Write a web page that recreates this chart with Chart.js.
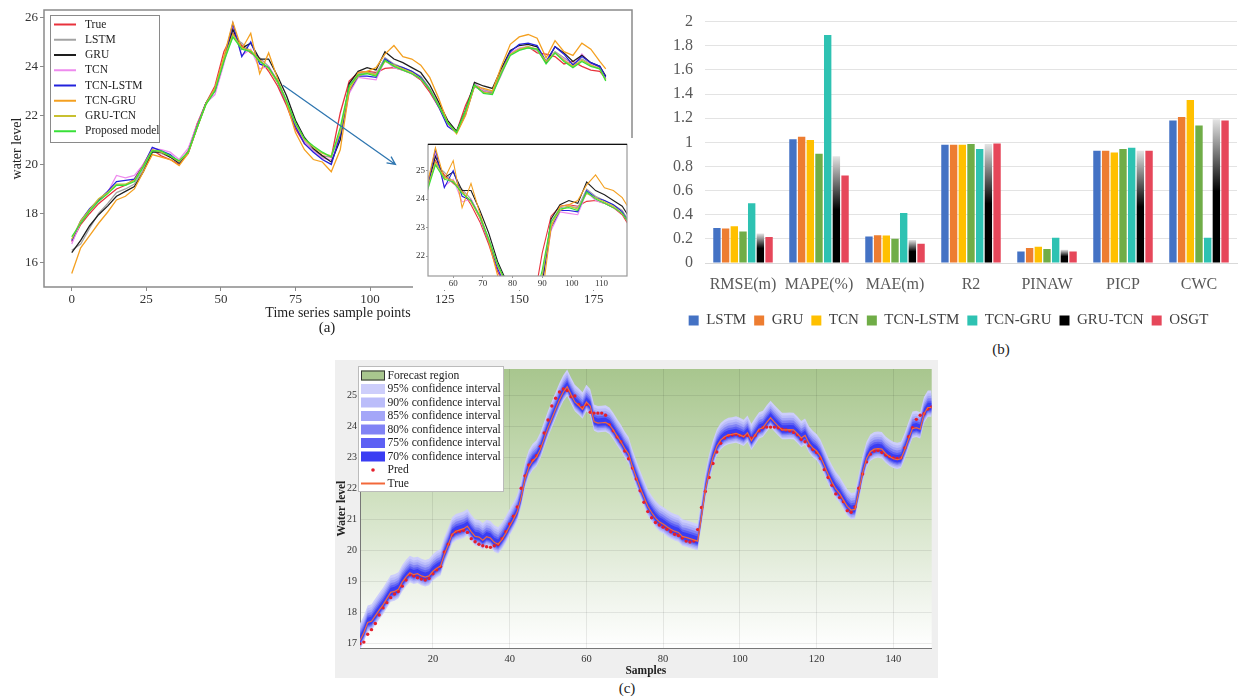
<!DOCTYPE html>
<html>
<head>
<meta charset="utf-8">
<script src="https://cdn.jsdelivr.net/npm/chart.js@4.4.1/dist/chart.umd.min.js"></script>
<style>
  body { margin: 0; background: #fff; width: 1239px; height: 699px; position: relative; overflow: hidden; font-family: "Liberation Serif", serif; }
  .box { position: absolute; }
  .cap { position: absolute; font-size: 15px; color: #222; transform: translateX(-50%); }
</style>
</head>
<body>
<div class="box" style="left:0;top:0;width:640px;height:322px"><canvas id="chartA"></canvas></div>
<div class="box" style="left:413px;top:138px;width:222px;height:152px"><canvas id="chartInset"></canvas></div>
<div class="box" style="left:660px;top:0;width:579px;height:340px"><canvas id="chartB"></canvas></div>
<div class="box" style="left:335px;top:360px;width:603px;height:318px"><canvas id="chartC"></canvas></div>
<div class="cap" style="left:327px;top:319px">(a)</div>
<div class="cap" style="left:1001px;top:341px">(b)</div>
<div class="cap" style="left:627px;top:680px">(c)</div>

<script>
// ---------- (a) model predictions ----------
const aSamples = [0, 3, 6, 9, 12, 15, 18, 21, 24, 27, 30, 33, 36, 39, 42, 45, 48, 51, 54, 57,
  60, 63, 66, 69, 72, 75, 78, 81, 84, 87, 90, 93, 96, 99, 102, 105, 108, 111, 114, 117,
  120, 123, 126, 129, 132, 135, 138, 141, 144, 147, 150, 153, 156, 159, 162, 165, 168, 171, 174, 177, 179];
const aTrue = [16.85, 17.55, 18.0, 18.4, 18.7, 19.0, 19.15, 19.4, 20.0, 20.6,
  20.35, 20.2, 20.0, 20.55, 21.65, 22.5, 23.2, 24.6, 25.35, 24.85,
  24.55, 24.3, 23.8, 23.2, 22.4, 21.45, 20.85, 20.6, 20.35, 20.3,
  22.1, 23.4, 23.75, 23.8, 23.75, 23.92, 23.95, 23.85, 23.7, 23.45,
  22.95, 22.35, 21.7, 21.35, 22.4, 23.2, 23.0, 22.95, 23.9, 24.55,
  24.7, 24.8, 24.55, 24.5, 24.4, 24.1, 24.2, 24.0, 23.85, 23.8, 23.5];
const aLstm = [16.5, 16.75, 17.4, 18.0, 18.4, 18.85, 19.0, 19.2, 19.8, 20.55,
  20.45, 20.3, 20.05, 20.5, 21.55, 22.5, 23.1, 24.35, 25.2, 24.95,
  24.6, 24.35, 24.0, 23.4, 22.6, 21.6, 20.95, 20.6, 20.3, 20.35,
  21.2, 23.2, 23.7, 23.75, 23.7, 24.35, 24.1, 23.95, 23.8, 23.6,
  23.1, 22.45, 21.75, 21.35, 22.2, 23.3, 23.05, 22.95, 23.8, 24.5,
  24.7, 24.75, 24.65, 24.2, 24.6, 24.35, 24.1, 24.3, 24.1, 23.95, 23.5];
const aGru = [16.4, 16.9, 17.5, 17.95, 18.3, 18.7, 18.9, 19.1, 19.7, 20.5,
  20.5, 20.3, 20.05, 20.45, 21.5, 22.5, 23.05, 24.3, 25.5, 24.75,
  24.95, 24.3, 24.3, 23.6, 22.8, 21.8, 21.1, 20.65, 20.35, 20.1,
  21.0, 23.3, 23.8, 23.95, 23.85, 24.6, 24.3, 24.15, 23.95, 23.75,
  23.25, 22.55, 21.8, 21.35, 22.2, 23.35, 23.2, 23.1, 23.9, 24.65,
  24.85, 24.9, 24.8, 24.15, 24.8, 24.55, 24.2, 24.45, 24.15, 24.0, 23.6];
const aTcn = [16.75, 17.65, 18.1, 18.5, 18.85, 19.55, 19.45, 19.55, 20.0, 20.65,
  20.6, 20.5, 20.2, 20.65, 21.6, 22.5, 22.85, 24.1, 25.6, 24.45,
  24.7, 23.9, 24.0, 23.4, 22.55, 21.6, 20.9, 20.55, 20.25, 20.2,
  21.0, 22.9, 23.55, 23.5, 23.45, 24.25, 23.95, 23.85, 23.7, 23.5,
  23.05, 22.35, 21.6, 21.3, 22.1, 23.3, 23.0, 22.9, 23.65, 24.55,
  24.75, 24.8, 24.7, 24.15, 24.55, 24.3, 24.0, 24.5, 24.1, 23.9, 23.5];
const aTcnLstm = [16.9, 17.7, 18.2, 18.55, 18.9, 19.3, 19.35, 19.4, 19.95, 20.7,
  20.55, 20.4, 20.1, 20.5, 21.55, 22.5, 23.0, 24.25, 25.75, 24.4,
  25.0, 24.1, 23.95, 23.35, 22.5, 21.55, 20.85, 20.5, 20.2, 20.0,
  21.2, 23.0, 23.6, 23.6, 23.55, 24.3, 24.05, 23.95, 23.8, 23.55,
  23.05, 22.35, 21.55, 21.3, 22.05, 23.2, 22.95, 22.9, 23.8, 24.6,
  24.9, 24.95, 24.85, 24.2, 24.8, 24.5, 24.05, 24.4, 24.15, 24.0, 23.55];
const aTcnGru = [15.55, 16.6, 17.1, 17.6, 18.05, 18.55, 18.7, 19.0, 19.7, 20.4,
  20.3, 20.2, 19.95, 20.45, 21.5, 22.45, 23.1, 24.4, 25.8, 24.7,
  25.35, 23.7, 24.55, 23.5, 22.5, 21.3, 20.6, 20.2, 20.1, 19.7,
  20.6, 23.0, 23.75, 23.8, 23.95, 24.5, 24.85, 24.4, 24.3, 24.05,
  23.55, 22.7, 21.7, 21.25, 22.0, 23.2, 23.1, 23.0, 24.0, 24.9,
  25.2, 25.3, 25.15, 24.35, 25.05, 24.6, 24.45, 24.95, 24.7, 24.2, 23.9];
const aGruTcn = [16.95, 17.7, 18.15, 18.6, 18.85, 19.2, 19.2, 19.35, 19.95, 20.6,
  20.5, 20.35, 20.1, 20.5, 21.5, 22.5, 23.05, 24.3, 25.3, 24.75,
  24.65, 24.25, 23.9, 23.35, 22.55, 21.65, 21.0, 20.7, 20.45, 20.35,
  21.3, 23.1, 23.6, 23.75, 23.65, 24.2, 24.05, 23.9, 23.75, 23.5,
  23.05, 22.4, 21.7, 21.3, 22.15, 23.2, 22.95, 22.9, 23.8, 24.5,
  24.7, 24.8, 24.7, 24.2, 24.55, 24.25, 24.0, 24.25, 24.05, 23.9, 23.45];
const aProposed = [17.05, 17.6, 18.1, 18.5, 18.8, 19.15, 19.15, 19.3, 19.9, 20.55,
  20.55, 20.35, 20.15, 20.5, 21.5, 22.45, 23.0, 24.2, 25.2, 24.7,
  24.6, 24.2, 23.95, 23.4, 22.6, 21.7, 21.05, 20.75, 20.5, 20.3,
  21.5, 23.2, 23.65, 23.7, 23.6, 24.25, 24.0, 23.85, 23.7, 23.5,
  23.05, 22.4, 21.7, 21.3, 22.2, 23.25, 22.9, 22.85, 23.7, 24.45,
  24.65, 24.75, 24.7, 24.1, 24.55, 24.2, 23.95, 24.2, 24.0, 23.9, 23.4];
const aNames = ["True", "LSTM", "GRU", "TCN", "TCN-LSTM", "TCN-GRU", "GRU-TCN", "Proposed model"];
const aXTicks = [0, 25, 50, 75, 100, 125, 150, 175];
const aYTicks = [16, 18, 20, 22, 24, 26];
const insetXTicks = [60, 70, 80, 90, 100, 110];
const insetYTicks = [22, 23, 24, 25];

// ---------- (b) evaluation metrics ----------
const bMetrics = ["RMSE(m)", "MAPE(%)", "MAE(m)", "R2", "PINAW", "PICP", "CWC"];
const bModels = ["LSTM", "GRU", "TCN", "TCN-LSTM", "TCN-GRU", "GRU-TCN", "OSGT"];
const bLstm = [0.29, 1.025, 0.22, 0.98, 0.095, 0.93, 1.18];
const bGru = [0.285, 1.045, 0.23, 0.98, 0.125, 0.93, 1.21];
const bTcn = [0.305, 1.02, 0.228, 0.98, 0.135, 0.915, 1.35];
const bTcnLstm = [0.26, 0.905, 0.2, 0.985, 0.115, 0.945, 1.14];
const bTcnGru = [0.495, 1.89, 0.415, 0.945, 0.21, 0.955, 0.21];
const bGruTcn = [0.245, 0.885, 0.19, 0.985, 0.11, 0.93, 1.19];
const bOsgt = [0.215, 0.725, 0.16, 0.99, 0.095, 0.93, 1.18];
const bYTicks = [0, 0.2, 0.4, 0.6, 0.8, 1, 1.2, 1.4, 1.6, 1.8, 2];

// ---------- (c) probabilistic forecast ----------
const cTrue = [17.10, 17.35, 17.68, 17.72, 17.90, 18.08, 18.25, 18.45, 18.65, 18.68,
  18.75, 18.98, 19.15, 19.28, 19.22, 19.25, 19.18, 19.14, 19.18, 19.33,
  19.43, 19.50, 19.88, 20.18, 20.52, 20.62, 20.66, 20.70, 20.78, 20.60,
  20.45, 20.43, 20.33, 20.44, 20.40, 20.26, 20.20, 20.35, 20.55, 20.78,
  21.00, 21.25, 21.70, 22.30, 22.68, 22.88, 23.00, 23.25, 23.60, 23.95,
  24.25, 24.55, 24.85, 25.10, 25.27, 25.02, 24.78, 24.67, 24.54, 24.78,
  24.65, 24.15, 24.10, 24.11, 24.12, 24.05, 23.88, 23.68, 23.50, 23.28,
  23.10, 22.70, 22.35, 22.02, 21.72, 21.42, 21.22, 21.05, 20.92, 20.85,
  20.76, 20.68, 20.62, 20.58, 20.45, 20.42, 20.38, 20.34, 20.30, 21.10,
  21.95, 22.55, 23.00, 23.35, 23.55, 23.66, 23.72, 23.74, 23.77, 23.72,
  23.66, 23.79, 23.53, 23.72, 23.90, 23.95, 24.12, 24.27, 24.13, 24.00,
  23.88, 23.88, 23.89, 23.88, 23.76, 23.62, 23.70, 23.45, 23.30, 23.20,
  23.02, 22.74, 22.45, 22.20, 21.98, 21.83, 21.62, 21.42, 21.30, 21.32,
  21.90, 22.50, 22.95, 23.18, 23.26, 23.28, 23.26, 23.12, 23.02, 22.95,
  22.92, 22.95, 23.25, 23.60, 23.92, 23.95, 23.90, 24.40, 24.60, 24.60];
const cPred = [17.00, 17.05, 17.30, 17.45, 17.65, 17.92, 18.15, 18.32, 18.48, 18.60,
  18.68, 18.85, 19.05, 19.22, 19.18, 19.12, 19.08, 19.05, 19.10, 19.25,
  19.38, 19.48, 19.95, 20.20, 20.50, 20.60, 20.62, 20.65, 20.58, 20.38,
  20.28, 20.20, 20.15, 20.12, 20.10, 20.15, 20.20, 20.38, 20.60, 20.85,
  21.10, 21.40, 22.00, 22.40, 22.75, 22.90, 23.05, 23.35, 23.78, 24.20,
  24.65, 24.90, 25.10, 25.20, 25.15, 24.95, 24.97, 24.70, 24.60, 24.70,
  24.45, 24.42, 24.42, 24.42, 24.35, 24.05, 23.85, 23.65, 23.50, 23.20,
  22.95, 22.65, 22.30, 21.92, 21.55, 21.25, 21.05, 20.90, 20.82, 20.75,
  20.68, 20.60, 20.52, 20.48, 20.40, 20.30, 20.27, 20.30, 20.67, 21.38,
  21.90, 22.35, 22.80, 23.17, 23.45, 23.62, 23.70, 23.72, 23.74, 23.70,
  23.68, 23.70, 23.62, 23.70, 23.85, 23.95, 23.97, 23.97, 23.97, 23.95,
  23.90, 23.88, 23.85, 23.80, 23.72, 23.58, 23.50, 23.37, 23.25, 23.15,
  22.96, 22.60, 22.35, 22.10, 21.82, 21.70, 21.57, 21.28, 21.23, 21.40,
  22.00, 22.46, 22.85, 23.10, 23.20, 23.22, 23.15, 23.07, 23.02, 22.98,
  22.96, 22.98, 23.30, 23.66, 23.95, 24.22, 24.35, 24.40, 24.55, 24.62];
const cSamples = cTrue.map((v, i) => i + 1);
const ciLevels = ["95%", "90%", "85%", "80%", "75%", "70%"];
const ciUpper = [0.55, 0.46, 0.38, 0.30, 0.22, 0.15]; // band above the true line
const ciLower = [0.30, 0.26, 0.22, 0.17, 0.13, 0.09]; // band below the true line
const cXTicks = [20, 40, 60, 80, 100, 120, 140];
const cYTicks = [17, 18, 19, 20, 21, 22, 23, 24, 25];

// ---------- styles ----------
Chart.defaults.font.family = "'Liberation Serif', 'Times New Roman', serif";
Chart.defaults.color = "#222";
const aColors = ["#e8323c", "#a3a3a3", "#1e1e1e", "#ee8aee", "#2222dc", "#f4a020", "#c8c030", "#38e038"];
const aDrawOrder = [7, 6, 4, 5, 3, 2, 1, 0]; // green on top
const bColors = ["#4472c4", "#ed7d31", "#ffc000", "#70ad47", "#2ec2b2", "#000000", "#e6475a"];
const ciColors = ["#cdcefb", "#bbbdfa", "#a4a6f8", "#8183f5", "#5d60f4", "#3a3df3"];

const fixTicks = (list) => (scale) => { scale.ticks = list.map((v) => ({ value: v })); };

// plugins
const whiteBg = {
  id: "whiteBg",
  beforeDraw(chart) {
    const c = chart.ctx;
    c.save();
    c.fillStyle = "#fff";
    c.fillRect(0, 0, chart.width, chart.height);
    c.restore();
  },
};

const frame = {
  id: "frame",
  afterDatasetsDraw(chart, args, o) {
    const a = chart.chartArea, c = chart.ctx;
    c.save();
    c.strokeStyle = o.color || "#888";
    c.lineWidth = o.width || 1.5;
    c.strokeRect(a.left, a.top, a.right - a.left, a.bottom - a.top);
    if (o.topColor) {
      c.strokeStyle = o.topColor;
      c.beginPath(); c.moveTo(a.left, a.top); c.lineTo(a.right, a.top); c.stroke();
    }
    c.restore();
  },
};

const arrow = {
  id: "arrow",
  afterDatasetsDraw(chart, args, o) {
    if (!o.from) return;
    const x = chart.scales.x, y = chart.scales.y, c = chart.ctx;
    const x0 = x.getPixelForValue(o.from[0]), y0 = y.getPixelForValue(o.from[1]);
    const x1 = x.getPixelForValue(o.to[0]), y1 = y.getPixelForValue(o.to[1]);
    const ang = Math.atan2(y1 - y0, x1 - x0);
    c.save();
    c.strokeStyle = "#2f76b0";
    c.lineWidth = 1.3;
    c.beginPath(); c.moveTo(x0, y0); c.lineTo(x1, y1);
    c.moveTo(x1 - 9 * Math.cos(ang - 0.45), y1 - 9 * Math.sin(ang - 0.45));
    c.lineTo(x1, y1);
    c.lineTo(x1 - 9 * Math.cos(ang + 0.45), y1 - 9 * Math.sin(ang + 0.45));
    c.stroke();
    c.restore();
  },
};

// legend drawn inside the plot, like the original figures
const boxLegend = {
  id: "boxLegend",
  afterDraw(chart, args, o) {
    if (!o.items) return;
    const c = chart.ctx;
    c.save();
    c.fillStyle = "#fff";
    c.fillRect(o.x, o.y, o.w, o.h);
    c.strokeStyle = o.border;
    c.lineWidth = 1;
    c.strokeRect(o.x + 0.5, o.y + 0.5, o.w, o.h);
    c.font = o.font;
    c.textBaseline = "middle";
    o.items.forEach((it, i) => {
      const cy = o.y + o.first + i * o.row;
      if (it.kind === "line") {
        c.strokeStyle = it.color; c.lineWidth = o.lineWidth;
        c.beginPath(); c.moveTo(o.mark[0], cy); c.lineTo(o.mark[1], cy); c.stroke();
      } else if (it.kind === "rect") {
        c.fillStyle = it.color;
        c.fillRect(o.mark[0], cy - 5, o.mark[1] - o.mark[0], 10);
        if (it.stroke) { c.strokeStyle = it.stroke; c.lineWidth = 1; c.strokeRect(o.mark[0] + 0.5, cy - 4.5, o.mark[1] - o.mark[0] - 1, 9); }
      } else {
        c.fillStyle = it.color;
        c.beginPath(); c.arc((o.mark[0] + o.mark[1]) / 2, cy, 1.8, 0, Math.PI * 2); c.fill();
      }
      c.fillStyle = "#222";
      c.fillText(it.text, o.textX, cy);
    });
    c.restore();
  },
};

// ---------- (a) ----------
function aDatasets(width) {
  const values = [aTrue, aLstm, aGru, aTcn, aTcnLstm, aTcnGru, aGruTcn, aProposed];
  return aNames.map((name, k) => ({
    label: name,
    data: aSamples.map((s, i) => ({ x: s, y: values[k][i] })),
    borderColor: aColors[k],
    borderWidth: width,
    pointRadius: 0,
    order: aDrawOrder[k],
  }));
}

new Chart(document.getElementById("chartA"), {
  type: "line",
  data: { datasets: aDatasets(1.3) },
  options: {
    responsive: true,
    maintainAspectRatio: false,
    animation: false,
    layout: { padding: { top: 10, right: 8, left: 0, bottom: 0 } },
    plugins: {
      legend: { display: false },
      tooltip: { enabled: false },
      frame: { color: "#8a8a8a", width: 1.5 },
      arrow: { from: [70.8, 23.23], to: [108.5, 20.0] },
      boxLegend: {
        x: 50, y: 15, w: 109, h: 127, first: 9.5, row: 15.25, border: "#8a8a8a",
        mark: [54, 76], textX: 85, lineWidth: 2, font: "11.5px 'Liberation Serif'",
        items: aNames.map((n, k) => ({ text: n, kind: "line", color: aColors[k] })),
      },
    },
    scales: {
      x: {
        type: "linear", min: -9.3, max: 187.8,
        afterBuildTicks: fixTicks(aXTicks),
        afterFit: (s) => { s.height = 35; },
        grid: { drawOnChartArea: false, tickLength: 4, color: "#8a8a8a" },
        border: { display: false },
        ticks: { padding: 1, font: { size: 13 }, color: "#333" },
        title: { display: true, text: "Time series sample points", font: { size: 14 }, color: "#222", padding: 0 },
      },
      y: {
        min: 15.0, max: 26.3,
        afterBuildTicks: fixTicks(aYTicks),
        afterFit: (s) => { s.width = 44; },
        grid: { drawOnChartArea: false, tickLength: 4, color: "#8a8a8a" },
        border: { display: false },
        ticks: { padding: 2, font: { size: 13 }, color: "#333" },
        title: { display: true, text: "water level", font: { size: 14 }, color: "#222", padding: { top: 9, bottom: 0 } },
      },
    },
  },
  plugins: [frame, arrow, boxLegend],
});

// zoomed inset of samples 52-119
new Chart(document.getElementById("chartInset"), {
  type: "line",
  data: { datasets: aDatasets(1.1) },
  options: {
    responsive: true,
    maintainAspectRatio: false,
    animation: false,
    layout: { padding: { top: 4, right: 8, left: 0, bottom: 0 } },
    plugins: {
      legend: { display: false },
      tooltip: { enabled: false },
      frame: { color: "#9a9a9a", width: 1.2, topColor: "#111" },
    },
    scales: {
      x: {
        type: "linear", min: 51.5, max: 118.6,
        afterBuildTicks: fixTicks(insetXTicks),
        afterFit: (s) => { s.height = 14; },
        grid: { drawOnChartArea: false, tickLength: 2, color: "#9a9a9a" },
        border: { display: false },
        ticks: { padding: 0, font: { size: 9 }, color: "#333" },
      },
      y: {
        min: 21.3, max: 25.92,
        afterBuildTicks: fixTicks(insetYTicks),
        afterFit: (s) => { s.width = 15; },
        grid: { drawOnChartArea: false, tickLength: 2, color: "#9a9a9a" },
        border: { display: false },
        ticks: { padding: 1, font: { size: 9 }, color: "#333" },
      },
    },
  },
  plugins: [whiteBg, frame],
});

// ---------- (b) ----------
const bValues = [bLstm, bGru, bTcn, bTcnLstm, bTcnGru, bGruTcn, bOsgt];
new Chart(document.getElementById("chartB"), {
  type: "bar",
  data: {
    labels: bMetrics,
    datasets: bModels.map((name, k) => ({
      label: name,
      data: bValues[k],
      backgroundColor: name === "GRU-TCN"
        ? (ctx) => {
            const chart = ctx.chart;
            if (ctx.type !== "data" || !chart.chartArea) return "#000";
            const y = chart.scales.y;
            const top = y.getPixelForValue(ctx.raw), base = y.getPixelForValue(0);
            const g = chart.ctx.createLinearGradient(0, top, 0, base);
            g.addColorStop(0, "#e4e4e4");
            g.addColorStop(0.5, "#000");
            g.addColorStop(1, "#000");
            return g;
          }
        : bColors[k],
      borderWidth: 0,
      categoryPercentage: 0.8,
      barPercentage: 0.85,
    })),
  },
  options: {
    responsive: true,
    maintainAspectRatio: false,
    animation: false,
    layout: { padding: { top: 20, right: 2, left: 0, bottom: 2 } },
    plugins: {
      tooltip: { enabled: false },
      legend: {
        position: "bottom",
        labels: { boxWidth: 10, boxHeight: 10, padding: 8, color: "#404040", font: { size: 15 } },
      },
    },
    scales: {
      x: {
        afterFit: (s) => { s.height = 42; },
        grid: { display: false },
        border: { color: "#d9d9d9" },
        ticks: { padding: 4, color: "#595959", font: { size: 16 }, minRotation: 0, maxRotation: 0, autoSkip: false },
      },
      y: {
        min: 0, max: 2,
        afterBuildTicks: fixTicks(bYTicks),
        afterFit: (s) => { s.width = 45; },
        grid: { color: "#e3e3e3", drawTicks: false },
        border: { display: false },
        ticks: { padding: 12, color: "#595959", font: { size: 16 }, callback: (v) => String(+v.toFixed(1)) },
      },
    },
  },
});

// ---------- (c) ----------
const cDatasets = [
  {
    label: "True",
    data: cSamples.map((s, i) => ({ x: s, y: cTrue[i] })),
    borderColor: "#f2683a", borderWidth: 1.2, pointRadius: 0,
  },
  {
    label: "Pred",
    data: cSamples.map((s, i) => ({ x: s, y: cPred[i] })),
    showLine: false, pointRadius: 1.7, pointBorderWidth: 0, pointBackgroundColor: "#e51f2b",
  },
];
for (let k = ciLevels.length - 1; k >= 0; k--) {
  cDatasets.push({
    label: ciLevels[k] + " confidence interval",
    data: cSamples.map((s, i) => ({ x: s, y: cTrue[i] + ciUpper[k] })),
    borderColor: "rgba(0,0,0,0)", pointRadius: 0, fill: "+1", backgroundColor: ciColors[k],
  });
  cDatasets.push({
    label: ciLevels[k] + " lower",
    data: cSamples.map((s, i) => ({ x: s, y: cTrue[i] - ciLower[k] })),
    borderColor: "rgba(0,0,0,0)", pointRadius: 0, fill: false,
  });
}

const cBackground = {
  id: "cBackground",
  beforeDraw(chart) {
    const c = chart.ctx, a = chart.chartArea;
    c.save();
    c.fillStyle = "#efefef";
    c.fillRect(0, 0, chart.width, chart.height);
    const g = c.createLinearGradient(0, a.top, 0, a.bottom);
    g.addColorStop(0, "#a8c68e");
    g.addColorStop(0.45, "#cfe0bf");
    g.addColorStop(0.8, "#eef3ea");
    g.addColorStop(1, "#ffffff");
    c.fillStyle = g;
    c.fillRect(a.left, a.top, a.right - a.left, a.bottom - a.top);
    c.restore();
  },
};

new Chart(document.getElementById("chartC"), {
  type: "line",
  data: { datasets: cDatasets },
  options: {
    responsive: true,
    maintainAspectRatio: false,
    animation: false,
    layout: { padding: { top: 7.7, right: 6.3, left: 0, bottom: 0 } },
    plugins: {
      legend: { display: false },
      tooltip: { enabled: false },
      boxLegend: {
        x: 23, y: 6, w: 145, h: 125, first: 9.5, row: 13.5, border: "#bbb",
        mark: [26, 50], textX: 52.5, lineWidth: 2, font: "11.6px 'Liberation Serif'",
        items: [{ text: "Forecast region", kind: "rect", color: "#a8c68e", stroke: "#333" }]
          .concat(ciLevels.map((l, k) => ({ text: l + " confidence interval", kind: "rect", color: ciColors[k] })))
          .concat([{ text: "Pred", kind: "dot", color: "#e51f2b" }, { text: "True", kind: "line", color: "#f2683a" }]),
      },
    },
    scales: {
      x: {
        type: "linear", min: 1, max: 150,
        afterBuildTicks: fixTicks(cXTicks),
        afterFit: (s) => { s.height = 29.7; },
        grid: { color: "rgba(0,0,0,0.08)", drawTicks: false },
        border: { color: "#777" },
        ticks: { padding: 5, font: { size: 10.5 }, color: "#333" },
        title: { display: true, text: "Samples", font: { size: 11.5, weight: "bold" }, color: "#222", padding: 0 },
      },
      y: {
        min: 16.85, max: 25.84,
        afterBuildTicks: fixTicks(cYTicks),
        afterFit: (s) => { s.width = 25; },
        grid: { color: "rgba(0,0,0,0.08)", drawTicks: false },
        border: { color: "#777" },
        ticks: { padding: 3, font: { size: 10 }, color: "#333" },
        title: { display: true, text: "Water level", font: { size: 11.5, weight: "bold" }, color: "#222", padding: 0 },
      },
    },
  },
  plugins: [cBackground, boxLegend],
});
</script>
</body>
</html>
